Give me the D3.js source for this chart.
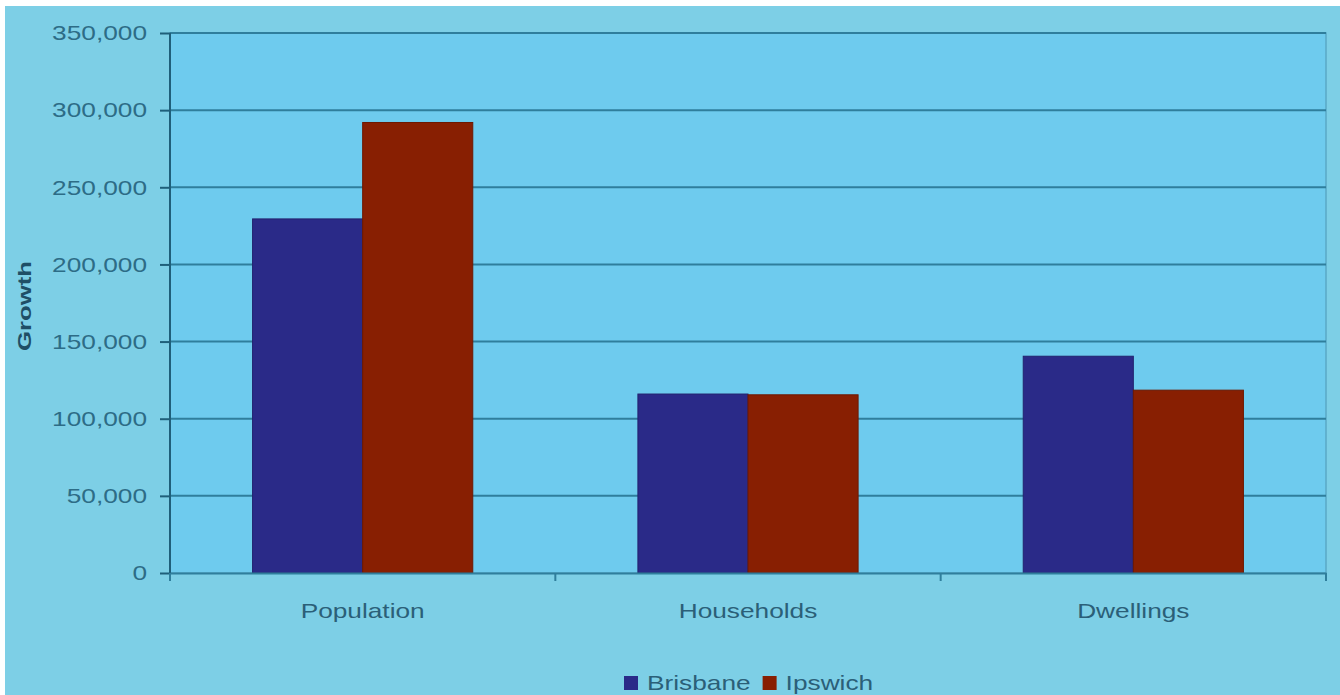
<!DOCTYPE html>
<meta charset="utf-8">
<script src="https://d3js.org/d3.v7.min.js"></script>
<style>
body { margin: 0; background: #ffffff; }
text { font-family: "Liberation Sans", Arial, sans-serif; }
</style>
<div id="my_dataviz"></div>
<script>

// data
var categories = ["Population", "Households", "Dwellings"];
var seriesNames = ["Brisbane", "Ipswich"];
var brisbane = [229500, 116000, 140500];
var ipswich = [292000, 115500, 118500];
var yTicks = [0, 50000, 100000, 150000, 200000, 250000, 300000, 350000];

var colors = { "Brisbane": "#2a2a88", "Ipswich": "#881f02" };

var W = 1340, H = 695;
var margin = {top: 33, right: 14, bottom: 122, left: 170},
    width = W - margin.left - margin.right,
    height = H - margin.top - margin.bottom;

// text in the picture is stretched sideways a bit
var stretch = 1.25;

var root = d3.select("#my_dataviz")
  .append("svg")
    .attr("width", W)
    .attr("height", H);

// light blue backdrop with thin white edge at top/left
root.append("rect")
  .attr("x", 5).attr("y", 6)
  .attr("width", W - 5).attr("height", H - 6)
  .attr("fill", "#7dcfe6");

var svg = root.append("g")
  .attr("transform", "translate(" + margin.left + "," + margin.top + ")");

// plot area
svg.append("rect")
  .attr("width", width).attr("height", height)
  .attr("fill", "#6ecbee")
  .attr("stroke", "#5aa9c6")
  .attr("stroke-width", 1.5);

var y = d3.scaleLinear()
  .domain([0, 350000])
  .range([height, 0]);

var x0 = d3.scaleBand()
  .domain(categories)
  .range([0, width]);

// excel style: gap width 150%
var barW = x0.bandwidth() / (seriesNames.length + 1.5);
var x1 = d3.scaleBand()
  .domain(seriesNames)
  .range([barW * 0.75, barW * 0.75 + barW * seriesNames.length]);

// gridlines
svg.append("g")
  .selectAll("line")
  .data(yTicks.slice(1))
  .enter()
  .append("line")
    .attr("x1", 0).attr("x2", width)
    .attr("y1", function(d) { return y(d); })
    .attr("y2", function(d) { return y(d); })
    .attr("stroke", "#2f7e9c")
    .attr("stroke-width", 2);

// bars
var rows = categories.map(function(c, i) {
  return { cat: c, vals: [ {s: "Brisbane", v: brisbane[i]}, {s: "Ipswich", v: ipswich[i]} ] };
});

svg.append("g")
  .selectAll("g")
  .data(rows)
  .enter()
  .append("g")
    .attr("transform", function(d) { return "translate(" + x0(d.cat) + ",0)"; })
  .selectAll("rect")
  .data(function(d) { return d.vals; })
  .enter()
  .append("rect")
    .attr("x", function(d) { return x1(d.s); })
    .attr("y", function(d) { return y(d.v); })
    .attr("width", x1.bandwidth())
    .attr("height", function(d) { return height - y(d.v); })
    .attr("fill", function(d) { return colors[d.s]; })
    .attr("stroke", function(d) { return d3.color(colors[d.s]).darker(0.6); })
    .attr("stroke-width", 1);

// y axis
var yAxis = svg.append("g")
  .call(d3.axisLeft(y).tickValues(yTicks).tickFormat(d3.format(",")).tickSize(10).tickSizeOuter(0));
yAxis.select(".domain").attr("stroke", "#1f5f7a").attr("stroke-width", 2)
  .attr("d", "M0,0V" + (height + 8));
yAxis.selectAll(".tick line").attr("stroke", "#1f5f7a").attr("stroke-width", 2);
yAxis.selectAll(".tick text")
  .attr("x", -23)
  .attr("fill", "#2d6c86")
  .style("font-size", "21px");

// x axis
var xAxis = svg.append("g")
  .attr("transform", "translate(0," + height + ")")
  .call(d3.axisBottom(x0).tickSize(0));
xAxis.select(".domain").attr("stroke", "#2f7e9c").attr("stroke-width", 2);
xAxis.selectAll(".tick text")
  .attr("y", 30)
  .attr("fill", "#2b5f78")
  .style("font-size", "21px");

// x separators between categories
svg.append("g")
  .selectAll("line")
  .data(d3.range(categories.length + 1))
  .enter()
  .append("line")
    .attr("x1", function(d) { return d * x0.step(); })
    .attr("x2", function(d) { return d * x0.step(); })
    .attr("y1", height).attr("y2", height + 8)
    .attr("stroke", "#2f7e9c")
    .attr("stroke-width", 2);

// axis title
root.append("text")
  .attr("transform", "translate(31,306) rotate(-90)")
  .attr("text-anchor", "middle")
  .attr("fill", "#1f4f66")
  .style("font-size", "18px")
  .style("font-weight", "bold")
  .attr("textLength", 90)
  .attr("lengthAdjust", "spacingAndGlyphs")
  .text("Growth");

// legend
var legend = root.append("g").attr("transform", "translate(624,690)");
var lx = 0;
seriesNames.forEach(function(s) {
  legend.append("rect")
    .attr("x", lx).attr("y", -14)
    .attr("width", 14).attr("height", 14)
    .attr("fill", colors[s]);
  var t = legend.append("text")
    .attr("x", lx + 23).attr("y", 0)
    .attr("fill", "#2b5f78")
    .style("font-size", "21px")
    .text(s);
  var len = t.node().getComputedTextLength() * stretch;
  t.attr("textLength", len).attr("lengthAdjust", "spacingAndGlyphs");
  lx += 23 + len + 12;
});

// stretch axis labels sideways
root.selectAll(".tick text").each(function() {
  var len = this.getComputedTextLength() * stretch;
  d3.select(this).attr("textLength", len).attr("lengthAdjust", "spacingAndGlyphs");
});

</script>
